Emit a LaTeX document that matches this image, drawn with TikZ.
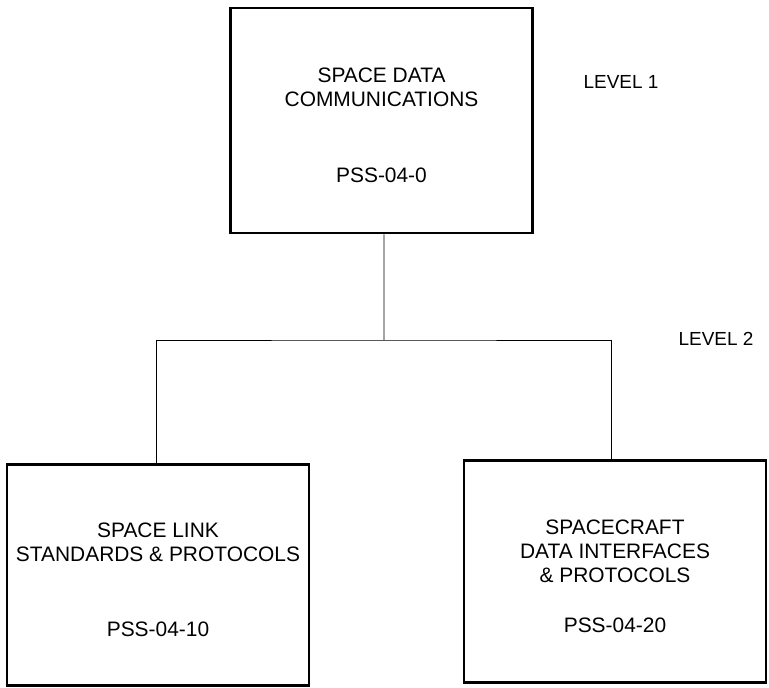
\documentclass[tikz,border=0pt]{standalone}
\usepackage{fontspec}
\setmainfont{Liberation Sans}

\tikzset{
  docbox/.style={draw, line width=2.6bp, inner sep=0pt, minimum width=302bp},
  doctext/.style={align=center, inner sep=0pt, yshift=-4.5bp,
    font=\fontsize{21}{24}\selectfont},
  levellabel/.style={inner sep=0pt, font=\fontsize{19}{22}\selectfont},
  link/.style={line width=0.8bp}
}

\begin{document}
\begin{tikzpicture}[x=1bp, y=-1bp]
  \useasboundingbox (0,0) rectangle (769,688);

  \node[docbox, minimum height=225bp,
    label={[doctext]center:{SPACE DATA\\COMMUNICATIONS\\[52bp]PSS-04-0}}]
    (pss0) at (381.5,120.5) {};
  \node[docbox, minimum height=221bp,
    label={[doctext]center:{SPACE LINK\\STANDARDS \& PROTOCOLS\\[51bp]PSS-04-10}}]
    (pss10) at (158,575) {};
  \node[docbox, minimum height=222bp,
    label={[doctext]center:{SPACECRAFT\\DATA INTERFACES\\\& PROTOCOLS\\[26bp]PSS-04-20}}]
    (pss20) at (615,571.5) {};

  \node[levellabel](lvl1) at (621,82) {LEVEL 1};
  \node[levellabel](lvl2) at (716,339) {LEVEL 2};

  \coordinate (fork) at (384,340);
  \draw[link] ([xshift=2.5bp]pss0.south) -- (fork);
  \draw[link] ([xshift=-2bp]pss10.north) |- (fork) -| ([xshift=-4bp]pss20.north);
\end{tikzpicture}
\end{document}
